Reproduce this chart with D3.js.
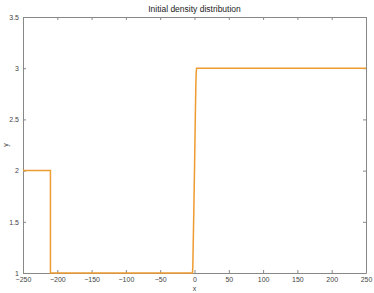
<!DOCTYPE html>
<html>
<head>
<meta charset="utf-8">
<script src="https://cdn.jsdelivr.net/npm/d3@7"></script>
<style>
  body { margin: 0; background: #fff; }
  .axis text { font-family: "Liberation Sans", Arial, sans-serif; font-size: 7px; fill: #444; }
  .axis path, .axis line { stroke: #888; }
</style>
</head>
<body>
<div id="chart"></div>
<script>
// Plot size and margins
const width = 374;
const height = 293;
const margin = {left: 23, right: 8, top: 17, bottom: 20};

// Density profile (x, rho)
const xVals = [-250, -210, -210, -3, -2.5, -1, 0, 1, 2, 2.5, 3, 250];
const rhoVals = [2, 2, 1, 1, 1.05, 1.6, 2.0, 2.45, 2.85, 2.96, 3, 3];
const xTicks = [-250, -200, -150, -100, -50, 0, 50, 100, 150, 200, 250];
const yTicks = [1, 1.5, 2, 2.5, 3, 3.5];

const svg = d3.select("#chart")
  .append("svg")
  .attr("width", width)
  .attr("height", height);

const x = d3.scaleLinear().domain([-250, 250]).range([margin.left, width - margin.right]);
const y = d3.scaleLinear().domain([1, 3.5]).range([height - margin.bottom, margin.top]);

// box with inward ticks on all four sides
svg.append("g").attr("class", "axis")
  .attr("transform", `translate(0,${height - margin.bottom})`)
  .call(d3.axisBottom(x).tickValues(xTicks).tickSizeInner(-3).tickSizeOuter(0).tickPadding(4));
svg.append("g").attr("class", "axis")
  .attr("transform", `translate(0,${margin.top})`)
  .call(d3.axisTop(x).tickValues(xTicks).tickSizeInner(-3).tickSizeOuter(0).tickFormat(""));
svg.append("g").attr("class", "axis")
  .attr("transform", `translate(${margin.left},0)`)
  .call(d3.axisLeft(y).tickValues(yTicks).tickSizeInner(-3).tickSizeOuter(0).tickPadding(4).tickFormat(d3.format("")));
svg.append("g").attr("class", "axis")
  .attr("transform", `translate(${width - margin.right},0)`)
  .call(d3.axisRight(y).tickValues(yTicks).tickSizeInner(-3).tickSizeOuter(0).tickFormat(""));

// the density line
const line = d3.line().x(i => x(xVals[i])).y(i => y(rhoVals[i]));
svg.append("path")
  .datum(d3.range(xVals.length))
  .attr("d", line)
  .attr("fill", "none")
  .attr("stroke", "#ee9b31")
  .attr("stroke-width", 1.5);

// labels
svg.append("text")
  .attr("x", (margin.left + width - margin.right) / 2).attr("y", 12)
  .attr("text-anchor", "middle")
  .style("font-family", "Liberation Sans, Arial, sans-serif").style("font-size", "8.5px").style("fill", "#222")
  .text("Initial density distribution");
svg.append("text")
  .attr("x", (margin.left + width - margin.right) / 2).attr("y", 291)
  .attr("text-anchor", "middle")
  .style("font-family", "Liberation Sans, Arial, sans-serif").style("font-size", "7px").style("fill", "#444")
  .text("x");
svg.append("text")
  .attr("transform", `translate(8,${(margin.top + height - margin.bottom) / 2}) rotate(-90)`)
  .attr("text-anchor", "middle")
  .style("font-family", "Liberation Sans, Arial, sans-serif").style("font-size", "7px").style("fill", "#444")
  .text("y");
</script>
</body>
</html>
